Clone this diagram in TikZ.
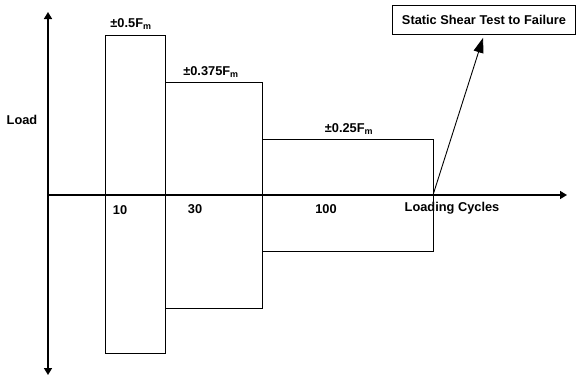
\documentclass[tikz,border=0pt]{standalone}
\usepackage{fontspec}
\setmainfont{Liberation Sans}
\usetikzlibrary{arrows.meta}
\begin{document}
\begin{tikzpicture}[x=1pt,y=-1pt,>={Triangle[width=8pt,length=7pt]},
  lbl/.style={font=\bfseries\fontsize{12.8}{14}\selectfont,inner sep=1pt},
  blk/.style={draw,line width=0.8pt}]
\useasboundingbox (0,0) rectangle (577,376);
% axes
\coordinate (o) at (48,195);
\coordinate (top) at (48,12);
\coordinate (bot) at (48,375);
\coordinate (right) at (567,195);
\draw[->,line width=1.6pt] (o) -- (top);
\draw[->,line width=1.6pt] (o) -- (bot);
\draw[->,line width=1.6pt] (o) -- (right);
% load blocks
\draw[blk] (105,35) rectangle (165,353);
\draw[blk] (165,82) rectangle (262,308);
\draw[blk] (262,139) rectangle (433,251);
\node[lbl] (amp1) at (131,24) {\textpm0.5F\textsubscript{m}};
\node[lbl] (amp2) at (211,72) {\textpm0.375F\textsubscript{m}};
\node[lbl] (amp3) at (349,129) {\textpm0.25F\textsubscript{m}};
\node[lbl] (n1) at (120,210) {10};
\node[lbl] (n2) at (195,209) {30};
\node[lbl] (n3) at (326,209) {100};
\node[lbl] (xlab) at (452,208) {Loading Cycles};
\node[lbl] (ylab) at (22,120) {Load};
% final test
\node[lbl,draw,line width=0.8pt,minimum width=183pt,minimum height=29pt] (test) at (484,20) {Static Shear Test to Failure};
\coordinate (fail) at (433,195);
\draw[-{Triangle[width=10pt,length=15pt]},line width=0.9pt,shorten >=3pt] (fail) -- (test.south);
\end{tikzpicture}
\end{document}
